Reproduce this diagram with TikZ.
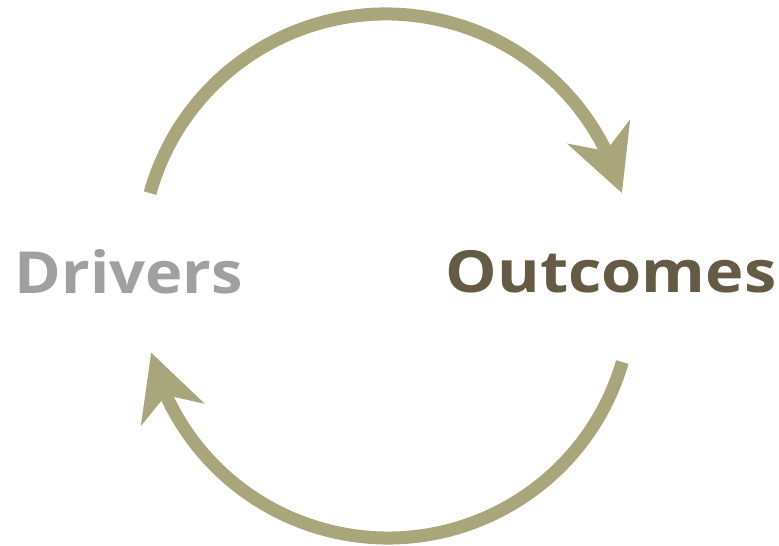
\documentclass[tikz,border=0pt]{standalone}
\usepackage{fontspec}
\setmainfont{Open Sans}
\usepackage{tikz}
\usetikzlibrary{arrows.meta,bending,positioning,calc}
\usepackage{xcolor}
\definecolor{olive}{RGB}{170,166,124}
\definecolor{drivergray}{RGB}{160,160,160}
\definecolor{outbrown}{RGB}{101,91,69}

\begin{document}
\begin{tikzpicture}[x=0.1mm, y=0.1mm,
                    loop/.style={line width=1.3mm, color=olive,
                                 -{Stealth[length=6.5mm, width=6.6mm, inset=2mm]}},
                    word/.style={font=\fontsize{16.5}{18}\selectfont\bfseries, anchor=base, inner sep=0pt}]
                    \useasboundingbox (0,0) rectangle (779,546);
                    
                    % Labels
                    \node[word, text=drivergray, xscale=1.09] (drivers) at (129,252) {Drivers};
                    \node[word, text=outbrown, xscale=1.12] (outcomes) at (611,253) {Outcomes};
                    
                    % Arc centres
                    \coordinate (topc) at (386,287);
                    \coordinate (botc) at (388,252);
                    
                    % Top arc - drivers to outcomes
                    \draw[loop] ([shift={(164.4:245)}]topc) arc[start angle=164.4, end angle=15.6, radius=245];
                    
                    % Bottom arc - outcomes back to drivers
                    \draw[loop] ([shift={(-16.2:244)}]botc) arc[start angle=-16.2, end angle=-166.1, radius=244];
                \end{tikzpicture}
\end{document}
